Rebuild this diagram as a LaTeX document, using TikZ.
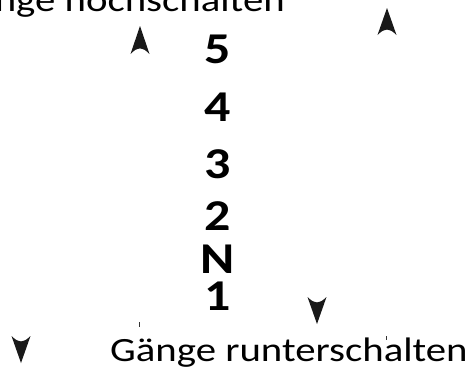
\documentclass[tikz,border=0pt]{standalone}
\usepackage{fontspec}
\setmainfont{Carlito}
\begin{document}
\begin{tikzpicture}[x=1pt,y=-1pt,
  lbl/.style={inner sep=0pt,font=\fontsize{34}{34}\selectfont},
  num/.style={inner sep=0pt,anchor=base,font=\fontsize{44}{44}\selectfont\bfseries},
  headfill/.style={fill=black!90,draw=none},
  tick/.style={line width=0.7pt,black!80}]
\useasboundingbox (0,0) rectangle (474,372);
\clip (0,0) rectangle (474,372);
% texts
\node[lbl,anchor=base east] (up) at (285,11) {\scalebox{1.2}[1]{Gänge hochschalten}};
\node[lbl,anchor=base west] (down) at (110,361) {\scalebox{1.2}[1]{Gänge runterschalten}};
% gear numbers
\node[num] (g5) at (218,63) {\scalebox{1.18}[1]{5}};
\node[num] (g4) at (218,121) {\scalebox{1.18}[1]{4}};
\node[num] (g3) at (218,178) {\scalebox{1.18}[1]{3}};
\node[num] (g2) at (218,230) {\scalebox{1.18}[1]{2}};
\node[num] (gN) at (218,273) {\scalebox{1.18}[1]{N}};
\node[num] (g1) at (218,310) {\scalebox{1.18}[1]{1}};
% arrow heads
\newcommand{\uphead}[4]{% tip x, tip y, width, height
  \fill[headfill] (#1,#2) .. controls (#1-0.28*#3,#2+0.5*#4) .. (#1-0.5*#3,#2+#4)
     .. controls (#1-0.25*#3,#2+0.84*#4) .. (#1,#2+0.8*#4)
     .. controls (#1+0.25*#3,#2+0.84*#4) .. (#1+0.5*#3,#2+#4)
     .. controls (#1+0.28*#3,#2+0.5*#4) .. cycle;}
\newcommand{\downhead}[4]{%
  \fill[headfill] (#1,#2) .. controls (#1-0.28*#3,#2-0.5*#4) .. (#1-0.5*#3,#2-#4)
     .. controls (#1-0.25*#3,#2-0.84*#4) .. (#1,#2-0.8*#4)
     .. controls (#1+0.25*#3,#2-0.84*#4) .. (#1+0.5*#3,#2-#4)
     .. controls (#1+0.28*#3,#2-0.5*#4) .. cycle;}
\uphead{140}{26}{19}{28}
\uphead{387}{8}{19}{27}
\downhead{21}{363}{19}{27}
\downhead{317}{324}{19}{27}
% small shaft remnants
\coordinate (t1a) at (139,322); \coordinate (t1b) at (139,327);
\coordinate (t2a) at (386,336); \coordinate (t2b) at (386,340);
\draw[tick] (t1a) -- (t1b);
\draw[tick] (t2a) -- (t2b);
\end{tikzpicture}
\end{document}
